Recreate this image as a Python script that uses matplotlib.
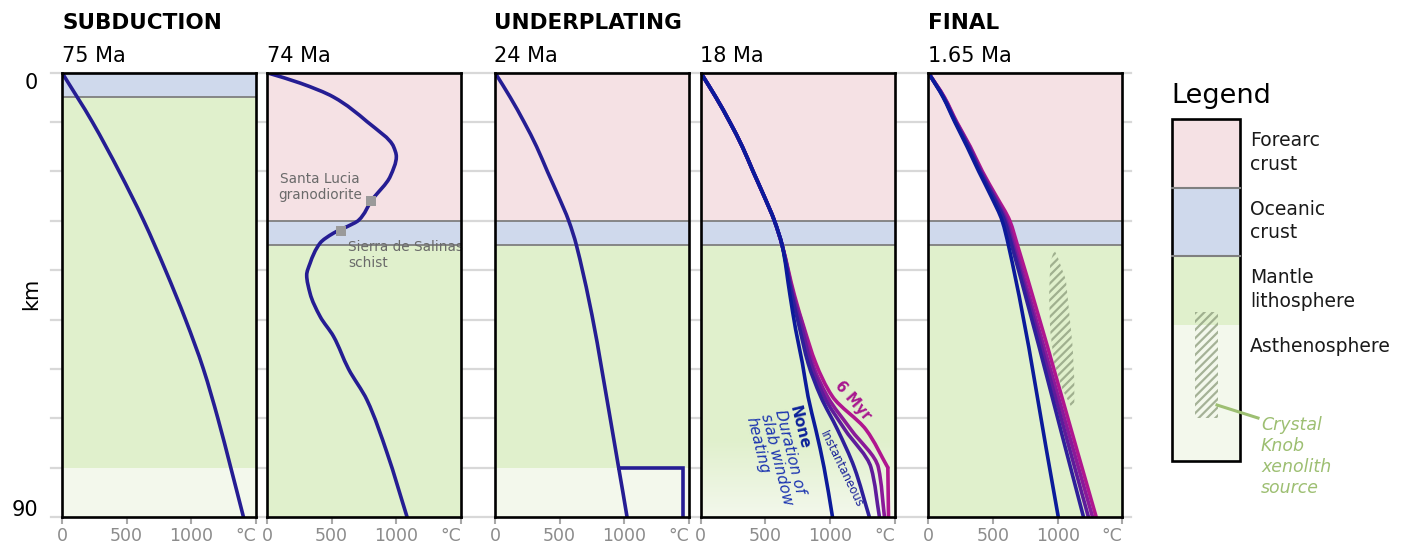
import numpy as np
import matplotlib.pyplot as plt
from matplotlib.colors import to_rgb
from matplotlib.patches import Polygon, Rectangle, PathPatch
from matplotlib.path import Path

plt.rcParams["font.family"] = ["DejaVu Sans"]
plt.rcParams["hatch.linewidth"] = 1.6

W, H = 1419, 542

# ---- geotherms (temperature in deg C vs depth in km) ----
depth_75 = [0, 10, 20, 30, 40, 50, 60, 70, 80, 90]
temp_75 = [0, 235, 442, 632, 800, 955, 1093, 1205, 1305, 1403]

depth_74 = [0, 2.1, 4.9, 9.9, 15, 17, 21, 25.8, 29.9, 31.2, 32.5, 34.5,
            38.6, 41, 44.7, 49.4, 53.4, 60, 66.3, 77, 90]
temp_74 = [0, 256, 512, 773, 979, 1000, 953, 811, 708, 618, 514, 411,
           333, 307, 333, 411, 514, 630, 773, 928, 1083]

sample_names = ["Santa Lucia\ngranodiorite", "Sierra de Salinas\nschist"]
sample_temp = [806, 571]
sample_depth = [25.9, 32.0]

depth_24 = [0, 5, 10, 15, 20, 25, 30, 35, 80, 90]
temp_24 = [0, 118, 225, 322, 405, 490, 570, 630, 956, 1021]
underplate_temp = [956, 1452, 1452]
underplate_depth = [80, 80, 90]

# 18 Ma: shared shallow part, then one branch per slab window heating duration
depth_18_top = [0, 5, 10, 15, 20, 25, 30]
temp_18_top = [0, 118, 225, 322, 405, 490, 570]
depth_18 = [35, 45, 52, 58.8, 65.6, 72.3, 80, 90]
temp_18_none = [630, 690, 734, 786, 830, 890, 954, 1019]
temp_18_inst = [630, 705, 767, 830, 928, 1058, 1188, 1304]
temp_18_mid1 = [630, 712, 785, 850, 954, 1115, 1317, 1382]
temp_18_mid2 = [630, 718, 798, 863, 980, 1162, 1374, 1421]
temp_18_6myr = [630, 724, 803, 889, 1019, 1278, 1447, 1452]
kink_18 = [False, False, False, False, True]   # sharp bend at 80 km

depth_final = [0, 5, 10, 15, 20, 25, 30, 35, 90]
temp_final_none = [0, 115, 205, 300, 390, 485, 571, 620, 1005]
temp_final_inst = [0, 118, 210, 310, 400, 500, 590, 645, 1200]
temp_final_mid1 = [0, 120, 213, 315, 405, 507, 600, 655, 1238]
temp_final_mid2 = [0, 122, 216, 320, 410, 515, 612, 668, 1270]
temp_final_6myr = [0, 125, 220, 325, 418, 525, 630, 690, 1298]

# Crystal Knob xenolith source outline (1.65 Ma)
xeno_temp = [973, 999, 1064, 1090, 1116, 1129, 1129, 1103, 1038, 973, 942, 934, 942]
xeno_depth = [35.9, 37.2, 42, 48.7, 55.5, 62.2, 66.9, 67.6, 64.2, 58.8, 52.1, 45.3, 38.6]

x_ticks = [0, 500, 1000, 1500]
x_ticklabels = ["0", "500", "1000", "°C"]

# ---- styling ----
C_FORE = "#f5e1e4"
C_OCEAN = "#cfd9ec"
C_MANTLE = "#e0f0cc"
C_ASTH = "#f3f8ec"
C_GEO = "#251d93"
C_BOUND = "#7f7f7f"
C_HATCH = "#8b9b7b"
heat_colors = ["#0b1a9a", "#2e1f9a", "#5e1c9b", "#8a1a99", "#b0168f"]
LW = 2.6

fig = plt.figure(figsize=(W / 100, H / 100), dpi=100)

top_px, bot_px = 72.7, 517.0
panel_w = 194.0


def geotherm(ax, temps, depths, color, z=3):
    """Smooth curve through the read points (T as a function of depth)."""
    d = np.asarray(depths, float)
    t = np.asarray(temps, float)
    h = np.diff(d)
    sl = np.diff(t) / h
    m = np.empty_like(t)
    m[0], m[-1] = sl[0], sl[-1]
    for i in range(1, len(t) - 1):
        if sl[i - 1] * sl[i] <= 0:
            m[i] = 0.0
        else:
            w1, w2 = 2 * h[i] + h[i - 1], h[i] + 2 * h[i - 1]
            m[i] = (w1 + w2) / (w1 / sl[i - 1] + w2 / sl[i])
    verts = [(t[0], d[0])]
    codes = [Path.MOVETO]
    for i in range(len(t) - 1):
        verts += [(t[i] + m[i] * h[i] / 3, d[i] + h[i] / 3),
                  (t[i + 1] - m[i + 1] * h[i] / 3, d[i + 1] - h[i] / 3),
                  (t[i + 1], d[i + 1])]
        codes += [Path.CURVE4] * 3
    ax.add_patch(PathPatch(Path(verts, codes), facecolor="none", edgecolor=color,
                           lw=LW, zorder=z, capstyle="round", joinstyle="round"))


def add_panel(left_px):
    ax = fig.add_axes([left_px / W, (H - bot_px) / H, panel_w / W, (bot_px - top_px) / H],
                      zorder=2)
    ax.set_xlim(0, 1500)
    ax.set_ylim(90, 0)
    ax.set_yticks([])
    ax.set_xticks(x_ticks)
    ax.set_xticklabels(x_ticklabels)
    ax.get_xticklabels()[-1].set_ha("right")
    ax.tick_params(axis="x", length=5, width=1.5, color="#a8a8a8",
                   labelcolor="#8c8c8c", labelsize=12.5, pad=2)
    for s in ax.spines.values():
        s.set_linewidth(1.9)
        s.set_color("black")
        s.set_zorder(10)
    return ax


def layers(ax, spans, bounds):
    for top, bot, col in spans:
        ax.axhspan(top, bot, color=col, lw=0, zorder=0)
    for b in bounds:
        ax.axhline(b, color=C_BOUND, lw=1.3, zorder=1)


# background grid spanning all panels
ax_bg = fig.add_axes([51 / W, (H - bot_px) / H, (1131 - 51) / W, (bot_px - top_px) / H],
                     zorder=0)
ax_bg.set_xlim(0, 1)
ax_bg.set_ylim(90, 0)
ax_bg.axis("off")
for d in range(0, 91, 10):
    ax_bg.axhline(d, color="#d8d8d8", lw=1.6, clip_on=False)

# ---- 75 Ma ----
ax1 = add_panel(62)
layers(ax1, [(0, 5, C_OCEAN), (5, 80, C_MANTLE), (80, 90, C_ASTH)], [5])
geotherm(ax1, temp_75, depth_75, C_GEO)

# ---- 74 Ma ----
ax2 = add_panel(267)
layers(ax2, [(0, 30, C_FORE), (30, 35, C_OCEAN), (35, 90, C_MANTLE)], [30, 35])
geotherm(ax2, temp_74, depth_74, C_GEO)
ax2.scatter(sample_temp, sample_depth, marker="s", s=55, color="#9a9a9a", zorder=4, lw=0)
ax2.text(410, 23.1, sample_names[0], ha="center", va="center", fontsize=9.8,
         color="#6a6a6a", linespacing=1.15, zorder=5)
ax2.text(625, 33.9, sample_names[1], ha="left", va="top", fontsize=9.8,
         color="#6a6a6a", linespacing=1.15, zorder=5)

# ---- 24 Ma ----
ax3 = add_panel(495)
layers(ax3, [(0, 30, C_FORE), (30, 35, C_OCEAN), (35, 80, C_MANTLE), (80, 90, C_ASTH)],
       [30, 35])
geotherm(ax3, temp_24, depth_24, C_GEO)
ax3.plot(underplate_temp, underplate_depth, color=C_GEO, lw=LW, zorder=3,
         solid_joinstyle="miter")

# ---- 18 Ma ----
ax4 = add_panel(700.7)
layers(ax4, [(0, 30, C_FORE), (30, 35, C_OCEAN), (35, 74, C_MANTLE)], [30, 35])
c0 = np.array(to_rgb(C_MANTLE))
c1 = np.array(to_rgb(C_ASTH))
f = np.linspace(0, 1, 64)[:, None]
grad = (c0 * (1 - f) + c1 * f)[:, None, :]
ax4.imshow(grad, extent=[0, 1500, 90, 74], aspect="auto", zorder=0, interpolation="bilinear")
ax4.set_xlim(0, 1500)
ax4.set_ylim(90, 0)
branches_18 = [temp_18_none, temp_18_inst, temp_18_mid1, temp_18_mid2, temp_18_6myr]
for k in range(len(branches_18) - 1, -1, -1):
    temps = temp_18_top + branches_18[k]
    depths = depth_18_top + depth_18
    if kink_18[k]:
        j = depths.index(80)
        geotherm(ax4, temps[:j + 1], depths[:j + 1], heat_colors[k])
        geotherm(ax4, temps[j:], depths[j:], heat_colors[k])
    else:
        geotherm(ax4, temps, depths, heat_colors[k])
ax4.text(780, 67.2, "None", rotation=-76, rotation_mode="anchor", ha="left", va="top",
         fontsize=11, fontweight="bold", color="#0b2199", zorder=5)
ax4.text(780, 67.2, "\nDuration of\nslab window\nheating", rotation=-76,
         rotation_mode="anchor", ha="left", va="top", fontsize=11, style="italic",
         color="#1a33b0", zorder=5, linespacing=1.0)
ax4.text(1090, 80.4, "Instantaneous", rotation=-64, rotation_mode="anchor", ha="center",
         va="center", fontsize=8.5, color="#1a2399", zorder=5)
ax4.text(1175, 66.5, "6 Myr", rotation=-49, rotation_mode="anchor", ha="center",
         va="center", fontsize=10.5, fontweight="bold", color="#a8188f", zorder=5)

# ---- 1.65 Ma ----
ax5 = add_panel(928.3)
layers(ax5, [(0, 30, C_FORE), (30, 35, C_OCEAN), (35, 90, C_MANTLE)], [30, 35])
ax5.add_patch(Polygon(np.column_stack([xeno_temp, xeno_depth]), closed=True,
                      facecolor="none", edgecolor=C_HATCH, lw=0, hatch="////",
                      alpha=0.75, zorder=2))
branches_final = [temp_final_none, temp_final_inst, temp_final_mid1, temp_final_mid2,
                  temp_final_6myr]
for k in range(len(branches_final) - 1, -1, -1):
    geotherm(ax5, branches_final[k], depth_final, heat_colors[k])


# ---- titles ----
def ftext(px, py, s, **kw):
    fig.text(px / W, 1 - py / H, s, **kw)


for px, s in [(62, "SUBDUCTION"), (494, "UNDERPLATING"), (928, "FINAL")]:
    ftext(px, 29, s, fontsize=15.5, fontweight="bold", va="baseline", ha="left")
for px, s in [(62, "75 Ma"), (267, "74 Ma"), (494, "24 Ma"), (700, "18 Ma"), (928, "1.65 Ma")]:
    ftext(px, 61.5, s, fontsize=15, va="baseline", ha="left")

ftext(38, 83, "0", fontsize=15, ha="right", va="center")
ftext(38, 510, "90", fontsize=15, ha="right", va="center")
ftext(31, 294, "km", fontsize=15, ha="center", va="center", rotation=90)

# ---- legend ----
ax_l = fig.add_axes([0, 0, 1, 1], zorder=5)
ax_l.set_xlim(0, W)
ax_l.set_ylim(H, 0)
ax_l.axis("off")
lx0, lx1 = 1172, 1240
for y0, y1, col in [(119.3, 187.7, C_FORE), (187.7, 256, C_OCEAN),
                    (256, 325, C_MANTLE), (325, 461, C_ASTH)]:
    ax_l.add_patch(Rectangle((lx0, y0), lx1 - lx0, y1 - y0, facecolor=col, lw=0))
for y in [187.7, 256]:
    ax_l.plot([lx0, lx1], [y, y], color=C_BOUND, lw=1.5)
ax_l.add_patch(Rectangle((1195, 311.7), 23, 106.3, facecolor="none", edgecolor=C_HATCH,
                         lw=0, hatch="////", alpha=0.75))
ax_l.add_patch(Rectangle((lx0, 119.3), lx1 - lx0, 461 - 119.3, facecolor="none",
                         edgecolor="black", lw=1.9))
ax_l.plot([1217, 1258], [405, 418], color="#9dbf72", lw=2.2)
ax_l.text(1171, 103, "Legend", fontsize=19.5, va="baseline", ha="left")
leg_lines = [("Forearc", 146), ("crust", 170), ("Oceanic", 215), ("crust", 238),
             ("Mantle", 283), ("lithosphere", 307), ("Asthenosphere", 352)]
for s, y in leg_lines:
    ax_l.text(1250, y, s, fontsize=13.5, va="baseline", ha="left", color="#1a1a1a")
for s, y in [("Crystal", 430), ("Knob", 451), ("xenolith", 472), ("source", 493)]:
    ax_l.text(1261, y, s, fontsize=12.5, va="baseline", ha="left", style="italic",
              color="#9dbf72")

fig.savefig("out.png", dpi=100, facecolor="white")
